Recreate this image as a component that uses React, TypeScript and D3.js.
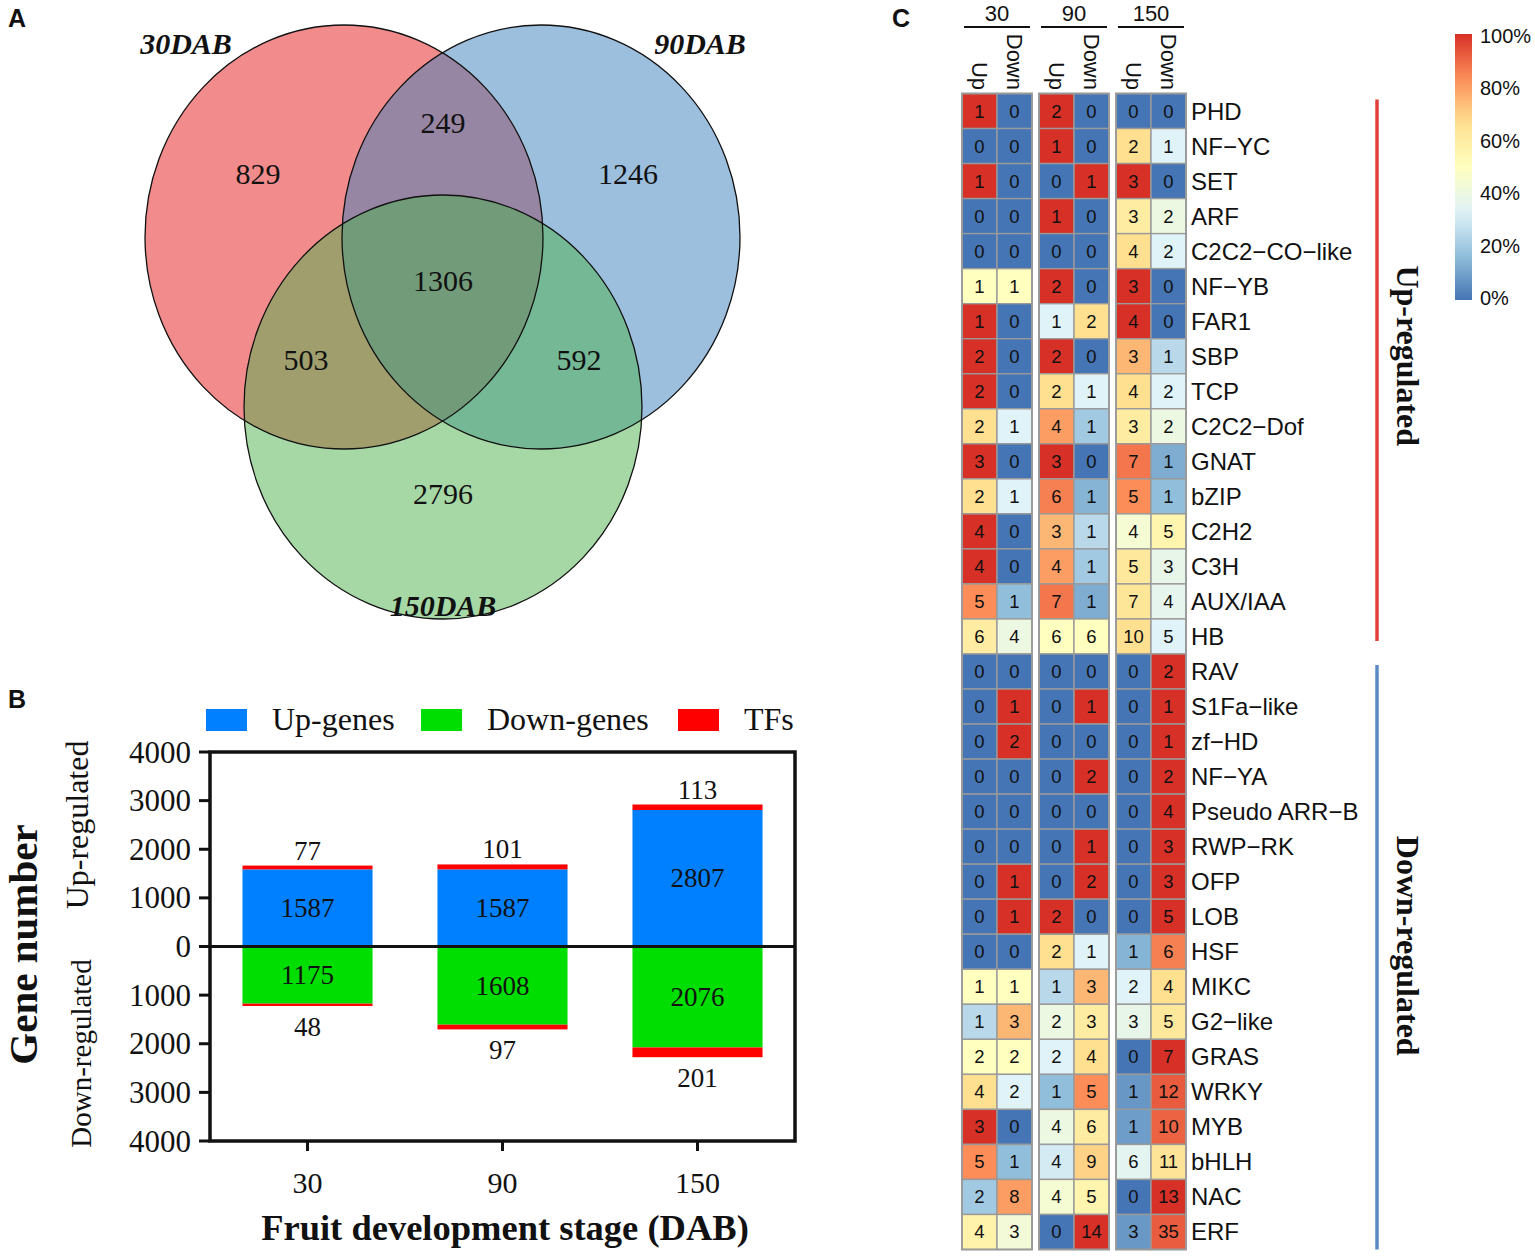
import * as d3 from 'd3'

const SERIF = '"Liberation Serif", "Times New Roman", serif'
const SANS = '"Liberation Sans", Arial, sans-serif'

// ---- panel A: venn ----
const vennSets = ['30DAB', '90DAB', '150DAB']
const vennFills = ['#E51717', '#3B7FBD', '#4DB14D']
// 30 only, 90 only, 150 only, 30&90, 30&150, 90&150, all three
const vennCounts = [829, 1246, 2796, 249, 503, 592, 1306]

// ---- panel B: stacked bars ----
const stages = ['30', '90', '150']
const upGenes = [1587, 1587, 2807]
const upTFs = [77, 101, 113]
const downGenes = [1175, 1608, 2076]
const downTFs = [48, 97, 201]
const barLegend = ['Up-genes', 'Down-genes', 'TFs']
const barColors = ['#0080FF', '#00DD00', '#FF0000']
const yTicks = [-4000, -3000, -2000, -1000, 0, 1000, 2000, 3000, 4000]

// ---- panel C: heatmap ----
const dirLabels = ['Up', 'Down']
const upFamilies = [
  'PHD', 'NF−YC', 'SET', 'ARF', 'C2C2−CO−like', 'NF−YB', 'FAR1', 'SBP',
  'TCP', 'C2C2−Dof', 'GNAT', 'bZIP', 'C2H2', 'C3H', 'AUX/IAA', 'HB',
]
// [30 up, 30 down, 90 up, 90 down, 150 up, 150 down]
const upCounts = [
  [1, 0, 2, 0, 0, 0],
  [0, 0, 1, 0, 2, 1],
  [1, 0, 0, 1, 3, 0],
  [0, 0, 1, 0, 3, 2],
  [0, 0, 0, 0, 4, 2],
  [1, 1, 2, 0, 3, 0],
  [1, 0, 1, 2, 4, 0],
  [2, 0, 2, 0, 3, 1],
  [2, 0, 2, 1, 4, 2],
  [2, 1, 4, 1, 3, 2],
  [3, 0, 3, 0, 7, 1],
  [2, 1, 6, 1, 5, 1],
  [4, 0, 3, 1, 4, 5],
  [4, 0, 4, 1, 5, 3],
  [5, 1, 7, 1, 7, 4],
  [6, 4, 6, 6, 10, 5],
]
const downFamilies = [
  'RAV', 'S1Fa−like', 'zf−HD', 'NF−YA', 'Pseudo ARR−B', 'RWP−RK', 'OFP', 'LOB', 'HSF',
  'MIKC', 'G2−like', 'GRAS', 'WRKY', 'MYB', 'bHLH', 'NAC', 'ERF',
]
const downCounts = [
  [0, 0, 0, 0, 0, 2],
  [0, 1, 0, 1, 0, 1],
  [0, 2, 0, 0, 0, 1],
  [0, 0, 0, 2, 0, 2],
  [0, 0, 0, 0, 0, 4],
  [0, 0, 0, 1, 0, 3],
  [0, 1, 0, 2, 0, 3],
  [0, 1, 2, 0, 0, 5],
  [0, 0, 2, 1, 1, 6],
  [1, 1, 1, 3, 2, 4],
  [1, 3, 2, 3, 3, 5],
  [2, 2, 2, 4, 0, 7],
  [4, 2, 1, 5, 1, 12],
  [3, 0, 4, 6, 1, 10],
  [5, 1, 4, 9, 6, 11],
  [2, 8, 4, 5, 0, 13],
  [4, 3, 0, 14, 3, 35],
]
const legendTicks = [0, 0.2, 0.4, 0.6, 0.8, 1]
const heatPalette = ['#4575B4', '#91BFDB', '#E0F3F8', '#FFFFBF', '#FEE090', '#FC8D59', '#D73027']

// layout
const VENN = {
  rx: 199,
  ry: 212,
  centers: [[344, 237], [541, 237], [443, 407]],
  setLabel: [[186, 54], [700, 54], [443, 616]],
  regionLabel: [[258, 173], [628, 173], [443, 493], [443, 122], [306, 359], [579, 359], [443, 280]],
}

const heatColor = d3
  .scaleLinear<string>()
  .domain(heatPalette.map((_, i) => i / (heatPalette.length - 1)))
  .range(heatPalette)
  .interpolate(d3.interpolateRgb)

function Venn() {
  return (
    <g>
      {vennSets.map((s, i) => (
        <ellipse
          key={s}
          cx={VENN.centers[i][0]}
          cy={VENN.centers[i][1]}
          rx={VENN.rx}
          ry={VENN.ry}
          fill={vennFills[i]}
          fillOpacity={0.5}
        />
      ))}
      {vennSets.map((s, i) => (
        <ellipse
          key={s + 'o'}
          cx={VENN.centers[i][0]}
          cy={VENN.centers[i][1]}
          rx={VENN.rx}
          ry={VENN.ry}
          fill="none"
          stroke="#111"
          strokeWidth={1.3}
        />
      ))}
      {vennCounts.map((c, i) => (
        <text
          key={i}
          x={VENN.regionLabel[i][0]}
          y={VENN.regionLabel[i][1]}
          textAnchor="middle"
          dominantBaseline="central"
          fontFamily={SERIF}
          fontSize={30}
          fill="#111"
        >
          {c}
        </text>
      ))}
      {vennSets.map((s, i) => (
        <text
          key={s + 't'}
          x={VENN.setLabel[i][0]}
          y={VENN.setLabel[i][1]}
          textAnchor="middle"
          fontFamily={SERIF}
          fontSize={30}
          fontWeight="bold"
          fontStyle="italic"
          fill="#111"
        >
          {s}
        </text>
      ))}
    </g>
  )
}

function Bars() {
  const x = d3.scaleBand(stages, [210, 795]).paddingInner(0.333).paddingOuter(0.1665)
  const y = d3.scaleLinear([-4000, 4000], [1141, 752])
  const bw = x.bandwidth()
  return (
    <g>
      {/* legend */}
      {barLegend.map((l, i) => {
        const lx = [206, 421, 678][i]
        return (
          <g key={l}>
            <rect x={lx} y={709} width={41} height={22} fill={barColors[i]} />
            <text x={lx + 66} y={730} fontFamily={SERIF} fontSize={32} fill="#111">
              {l}
            </text>
          </g>
        )
      })}
      {stages.map((s, i) => {
        const x0 = x(s)!
        const cx = x0 + bw / 2
        const upTop = upGenes[i] + upTFs[i]
        const dnBot = downGenes[i] + downTFs[i]
        return (
          <g key={s}>
            <rect x={x0} y={y(upGenes[i])} width={bw} height={y(0) - y(upGenes[i])} fill={barColors[0]} />
            <rect x={x0} y={y(upTop)} width={bw} height={y(upGenes[i]) - y(upTop)} fill={barColors[2]} />
            <rect x={x0} y={y(0)} width={bw} height={y(-downGenes[i]) - y(0)} fill={barColors[1]} />
            <rect x={x0} y={y(-downGenes[i])} width={bw} height={y(-dnBot) - y(-downGenes[i])} fill={barColors[2]} />
            <text x={cx} y={y(upGenes[i] / 2)} dominantBaseline="central" textAnchor="middle" fontFamily={SERIF} fontSize={27} fill="#111">
              {upGenes[i]}
            </text>
            <text x={cx} y={y(-downGenes[i] / 2)} dominantBaseline="central" textAnchor="middle" fontFamily={SERIF} fontSize={27} fill="#111">
              {downGenes[i]}
            </text>
            <text x={cx} y={y(upTop) - 6} textAnchor="middle" fontFamily={SERIF} fontSize={27} fill="#111">
              {upTFs[i]}
            </text>
            <text x={cx} y={y(-dnBot) + 30} textAnchor="middle" fontFamily={SERIF} fontSize={27} fill="#111">
              {downTFs[i]}
            </text>
            <line x1={cx} x2={cx} y1={1141} y2={1151} stroke="#111" strokeWidth={3} />
            <text x={cx} y={1193} textAnchor="middle" fontFamily={SERIF} fontSize={30} fill="#111">
              {s}
            </text>
          </g>
        )
      })}
      {/* axes + frame */}
      <line x1={210} x2={795} y1={y(0)} y2={y(0)} stroke="#111" strokeWidth={3} />
      <rect x={210} y={752} width={585} height={389} fill="none" stroke="#111" strokeWidth={3.5} />
      {yTicks.map((t) => (
        <g key={t}>
          <line x1={199} x2={210} y1={y(t)} y2={y(t)} stroke="#111" strokeWidth={3} />
          <text x={191} y={y(t)} dominantBaseline="central" textAnchor="end" fontFamily={SERIF} fontSize={31} fill="#111">
            {Math.abs(t)}
          </text>
        </g>
      ))}
      <text transform={`translate(88,${y(2500)}) rotate(-90)`} textAnchor="middle" fontFamily={SERIF} fontSize={32} fill="#111">
        Up-regulated
      </text>
      <text transform={`translate(91,${y(-2200)}) rotate(-90)`} textAnchor="middle" fontFamily={SERIF} fontSize={29} fill="#111">
        Down-regulated
      </text>
      <text transform={`translate(37,${y(0) - 2}) rotate(-90)`} textAnchor="middle" fontFamily={SERIF} fontSize={41} fontWeight="bold" fill="#111">
        Gene number
      </text>
      <text x={505} y={1240} textAnchor="middle" fontFamily={SERIF} fontSize={36.5} fontWeight="bold" fill="#111">
        Fruit development stage (DAB)
      </text>
    </g>
  )
}

function Heatmap() {
  const families = [...upFamilies, ...downFamilies]
  const counts = [...upCounts, ...downCounts]
  const y = d3.scaleBand(families, [93.5, 1249.5])
  const xStage = d3.scaleBand(stages, [962, 1186]).paddingInner(7 / 77)
  const xDir = d3.scaleBand(dirLabels, [0, xStage.bandwidth()])
  const rh = y.bandwidth()
  const cw = xDir.bandwidth()
  const legY = d3.scaleLinear([0, 1], [298, 36])
  const upTop = y(upFamilies[0])!
  const upBot = y(upFamilies[upFamilies.length - 1])! + rh
  const dnTop = y(downFamilies[0])!
  const dnBot = y(downFamilies[downFamilies.length - 1])! + rh
  return (
    <g>
      <defs>
        <linearGradient id="heatgrad" x1="0" y1="1" x2="0" y2="0">
          {d3.range(0, 1.0001, 0.05).map((t) => (
            <stop key={t} offset={t} stopColor={heatColor(t)} />
          ))}
        </linearGradient>
      </defs>
      {stages.map((s, si) => {
        const sx = xStage(s)!
        return (
          <g key={s}>
            <text x={sx + xStage.bandwidth() / 2} y={21} textAnchor="middle" fontFamily={SANS} fontSize={22} fill="#111">
              {s}
            </text>
            <line x1={sx + 2} x2={sx + xStage.bandwidth() - 2} y1={27} y2={27} stroke="#111" strokeWidth={2} />
            {dirLabels.map((d) => (
              <text
                key={d}
                transform={`translate(${sx + xDir(d)! + cw / 2},90) rotate(90)`}
                textAnchor="end"
                dominantBaseline="central"
                fontFamily={SANS}
                fontSize={22}
                fill="#111"
              >
                {d}
              </text>
            ))}
            {families.map((f, fi) => {
              const pair = [counts[fi][si * 2], counts[fi][si * 2 + 1]]
              const total = pair[0] + pair[1]
              return dirLabels.map((d, di) => {
                const v = pair[di]
                const pct = total ? v / total : 0
                const cx = sx + xDir(d)!
                return (
                  <g key={f + d}>
                    <rect x={cx} y={y(f)} width={cw} height={rh} fill={heatColor(pct)} stroke="#9a9a9a" strokeWidth={1.4} />
                    <text x={cx + cw / 2} y={y(f)! + rh / 2} textAnchor="middle" dominantBaseline="central" fontFamily={SANS} fontSize={18.5} fill="#111">
                      {v}
                    </text>
                  </g>
                )
              })
            })}
            <rect x={sx} y={93.5} width={xStage.bandwidth()} height={1156} fill="none" stroke="#9a9a9a" strokeWidth={1.8} />
          </g>
        )
      })}
      {families.map((f) => (
        <text key={f} x={1191} y={y(f)! + rh / 2} dominantBaseline="central" fontFamily={SANS} fontSize={24} fill="#111">
          {f}
        </text>
      ))}
      <line x1={1377} x2={1377} y1={upTop + 6} y2={upBot - 13} stroke="#E0403A" strokeWidth={3.5} />
      <line x1={1377} x2={1377} y1={dnTop + 11} y2={dnBot} stroke="#5B8BC5" strokeWidth={3.5} />
      <text transform={`translate(1408,${(upTop + upBot) / 2 - 18}) rotate(90)`} textAnchor="middle" dominantBaseline="central" fontFamily={SERIF} fontSize={32} fontWeight="bold" fill="#111">
        Up-regulated
      </text>
      <text transform={`translate(1408,${(dnTop + dnBot) / 2 - 6}) rotate(90)`} textAnchor="middle" dominantBaseline="central" fontFamily={SERIF} fontSize={32} fontWeight="bold" fill="#111">
        Down-regulated
      </text>
      {/* colour legend */}
      <rect x={1455} y={legY(1) - 2} width={17} height={legY(0) - legY(1) + 4} fill="url(#heatgrad)" />
      {legendTicks.map((t) => (
        <text key={t} x={1480} y={legY(t)} dominantBaseline="central" fontFamily={SANS} fontSize={20} fill="#111">
          {`${Math.round(t * 100)}%`}
        </text>
      ))}
    </g>
  )
}

export default function App() {
  return (
    <svg
      width={1535}
      height={1258}
      viewBox="0 0 1535 1258"
      style={{ position: 'absolute', left: 0, top: 0, background: '#fff' }}
    >
      <rect width={1535} height={1258} fill="#fff" />
      <text x={8} y={27} fontFamily={SANS} fontWeight="bold" fontSize={25} fill="#111">A</text>
      <text x={8} y={708} fontFamily={SANS} fontWeight="bold" fontSize={25} fill="#111">B</text>
      <text x={892} y={27} fontFamily={SANS} fontWeight="bold" fontSize={25} fill="#111">C</text>
      <Venn />
      <Bars />
      <Heatmap />
    </svg>
  )
}
